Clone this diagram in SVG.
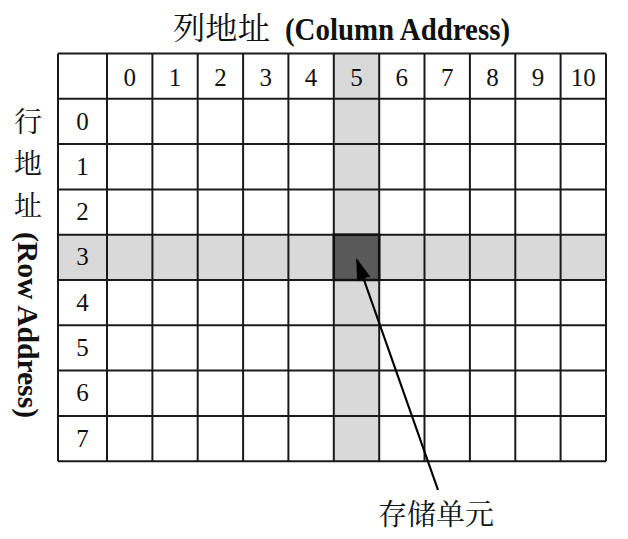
<svg xmlns="http://www.w3.org/2000/svg" width="628" height="539" viewBox="0 0 628 539">
<style>
.num{font-family:"Liberation Serif","Times New Roman",serif;font-size:25px;fill:#111;text-anchor:middle}
.cjk{font-family:"Noto Serif CJK SC","Noto Sans CJK SC",sans-serif;fill:#111}
.bold{font-family:"Liberation Serif","Times New Roman",serif;font-weight:bold;fill:#111}
.grid line{stroke:#1a1a1a;stroke-width:2}
</style>
<defs>
<marker id="ah" markerWidth="22" markerHeight="14" refX="20" refY="7" orient="auto" markerUnits="userSpaceOnUse">
<path d="M0,0 L22,7 L0,14 Z" fill="#000"/>
</marker>
</defs>
<rect width="628" height="539" fill="#fff"/>
<g id="title">
<text class="cjk" x="173" y="39" font-size="31" textLength="97" lengthAdjust="spacingAndGlyphs">列地址</text>
<text class="bold" x="285" y="40" font-size="32" textLength="225" lengthAdjust="spacingAndGlyphs">(Column Address)</text>
</g>
<g id="rowlabel">
<text class="cjk" x="28" y="132" font-size="28" text-anchor="middle">行</text>
<text class="cjk" x="28" y="174" font-size="28" text-anchor="middle">地</text>
<text class="cjk" x="28" y="216" font-size="28" text-anchor="middle">址</text>
<text class="bold" font-size="30" text-anchor="middle" textLength="186" lengthAdjust="spacingAndGlyphs" transform="translate(18,325) rotate(90)">(Row Address)</text>
</g>
<g id="highlight">
<rect x="58" y="234.7" width="548" height="45.3" fill="#d9d9d9"/>
<rect x="333.8" y="53.5" width="45.4" height="407.7" fill="#d9d9d9"/>
</g>
<g id="grid" class="grid">
<line x1="58" y1="53.5" x2="606" y2="53.5"/>
<line x1="58" y1="98.8" x2="606" y2="98.8"/>
<line x1="58" y1="144.1" x2="606" y2="144.1"/>
<line x1="58" y1="189.4" x2="606" y2="189.4"/>
<line x1="58" y1="234.7" x2="606" y2="234.7"/>
<line x1="58" y1="280" x2="606" y2="280"/>
<line x1="58" y1="325.3" x2="606" y2="325.3"/>
<line x1="58" y1="370.6" x2="606" y2="370.6"/>
<line x1="58" y1="415.9" x2="606" y2="415.9"/>
<line x1="58" y1="461.2" x2="606" y2="461.2"/>
<line x1="58" y1="53.5" x2="58" y2="461.2"/>
<line x1="107" y1="53.5" x2="107" y2="461.2"/>
<line x1="152.4" y1="53.5" x2="152.4" y2="461.2"/>
<line x1="197.7" y1="53.5" x2="197.7" y2="461.2"/>
<line x1="243.1" y1="53.5" x2="243.1" y2="461.2"/>
<line x1="288.4" y1="53.5" x2="288.4" y2="461.2"/>
<line x1="333.8" y1="53.5" x2="333.8" y2="461.2"/>
<line x1="379.2" y1="53.5" x2="379.2" y2="461.2"/>
<line x1="424.5" y1="53.5" x2="424.5" y2="461.2"/>
<line x1="469.9" y1="53.5" x2="469.9" y2="461.2"/>
<line x1="515.3" y1="53.5" x2="515.3" y2="461.2"/>
<line x1="560.6" y1="53.5" x2="560.6" y2="461.2"/>
<line x1="606" y1="53.5" x2="606" y2="461.2"/>
</g>
<g id="cell-3-5">
<rect x="333.8" y="234.7" width="45.4" height="45.3" fill="#595959" stroke="#111" stroke-width="2.5"/>
</g>
<g id="colheaders">
<text class="num" x="129.7" y="86">0</text>
<text class="num" x="175" y="86">1</text>
<text class="num" x="220.4" y="86">2</text>
<text class="num" x="265.8" y="86">3</text>
<text class="num" x="311.1" y="86">4</text>
<text class="num" x="356.5" y="86">5</text>
<text class="num" x="401.8" y="86">6</text>
<text class="num" x="447.2" y="86">7</text>
<text class="num" x="492.6" y="86">8</text>
<text class="num" x="537.9" y="86">9</text>
<text class="num" x="583.3" y="86">10</text>
</g>
<g id="rowheaders">
<text class="num" x="82.5" y="129.5">0</text>
<text class="num" x="82.5" y="174.8">1</text>
<text class="num" x="82.5" y="220.1">2</text>
<text class="num" x="82.5" y="265.4">3</text>
<text class="num" x="82.5" y="310.7">4</text>
<text class="num" x="82.5" y="356">5</text>
<text class="num" x="82.5" y="401.3">6</text>
<text class="num" x="82.5" y="446.6">7</text>
</g>
<g id="connectors">
<line x1="438" y1="490" x2="357" y2="260" stroke="#000" stroke-width="2.2" marker-end="url(#ah)"/>
</g>
<g id="label">
<text class="cjk" x="436" y="525" font-size="29" text-anchor="middle">存储单元</text>
</g>
</svg>
